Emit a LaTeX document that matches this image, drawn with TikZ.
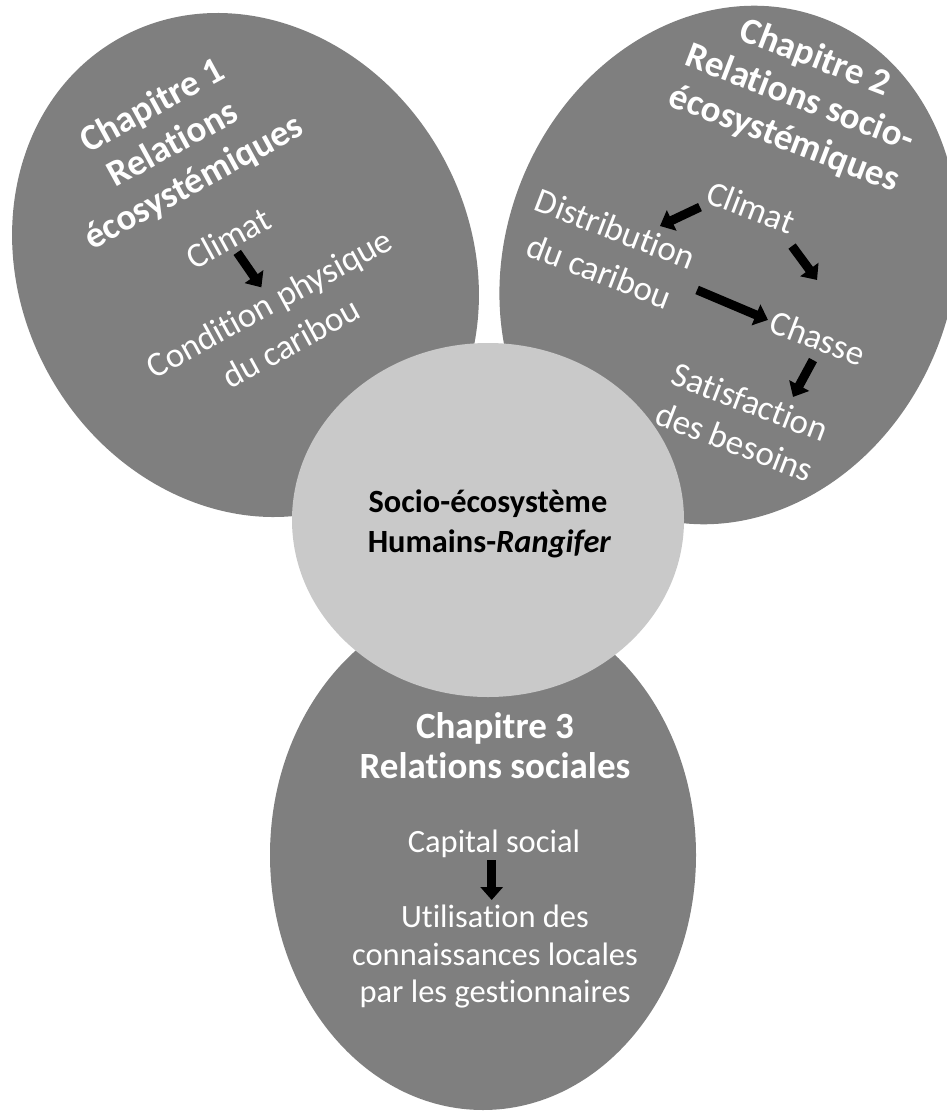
\documentclass[tikz,border=0pt]{standalone}
\usepackage{fontspec}
\setmainfont{Carlito}[Ligatures=NoCommon, Contextuals=NoAlternate]
\usetikzlibrary{arrows.meta}
\definecolor{darkfill}{RGB}{127,127,127}
\definecolor{lightfill}{RGB}{201,201,201}
\begin{document}
\begin{tikzpicture}[x=1pt,y=1pt,
  ttl/.style={text=white, font=\bfseries\fontsize{37}{43.5}\selectfont, inner sep=0pt, align=center},
  bodyA/.style={text=white, font=\fontsize{35}{45.5}\selectfont, inner sep=0pt, align=center},
  bodyB/.style={text=white, font=\fontsize{35}{43}\selectfont, inner sep=0pt, align=center},
  bodyC/.style={text=white, font=\fontsize{32.5}{38}\selectfont, inner sep=0pt, anchor=base},
  ttlC/.style={text=white, font=\bfseries\fontsize{37}{43}\selectfont, inner sep=0pt, anchor=base},
  hubtxt/.style={text=black, font=\bfseries\fontsize{32.4}{40}\selectfont, inner sep=0pt, anchor=base},
  blockarrow/.style={line width=9pt, black, -{Triangle[width=22pt,length=13pt]}}
]
\useasboundingbox (0,0) rectangle (947,-1111);
\clip (0,0) rectangle (947,-1111);

% shapes
\fill[darkfill, rotate around={28.7:(245.5,-265)}] (245.5,-265) ellipse [x radius=225, y radius=259.5];
\fill[darkfill, rotate around={-21:(729,-265)}] (729,-265) ellipse [x radius=224, y radius=264];
\fill[darkfill] (483,-855) ellipse [x radius=213, y radius=255];
\fill[lightfill] (488,-520) ellipse [x radius=196, y radius=177];

% Chapter 1
\begin{scope}[shift={(245.5,-265)}, rotate=28.7]
  \node[ttl, rotate=28.7] (ch1title) at (-5.5,140) {Chapitre 1\\Relations\\écosystémiques};
  \node[bodyA, rotate=28.7] (ch1clim) at (-2.3,32.1) {Climat};
  \node[bodyA, rotate=28.7] (ch1cond) at (2.5,-67.3) {Condition physique\\du caribou};
  \coordinate (a1s) at (-1.2,15);
  \coordinate (a1e) at (3.2,-27.2);
\end{scope}
\draw[blockarrow] (a1s) -- (a1e);

% Chapter 2
\begin{scope}[shift={(725,-265)}, rotate=-21]
  \node[ttl, rotate=-21] (ch2title) at (10,182) {Chapitre 2\\Relations socio-\\écosystémiques};
  \node[bodyA, rotate=-21] (ch2clim) at (3.5,63.4) {Climat};
  \node[bodyA, rotate=-21] (ch2dist) at (-115,-28.1) {Distribution\\du caribou};
  \node[bodyA, rotate=-21] (ch2chas) at (113,-34.9) {Chasse};
  \node[bodyB, rotate=-21] (ch2sat) at (72.5,-140.2) {Satisfaction\\des besoins};
  \coordinate (b1s) at (-44.1,45.1);  \coordinate (b1e) at (-74.7,13.1);
  \coordinate (b2s) at (55.8,41.7);   \coordinate (b2e) at (91.3,19);
  \coordinate (b3s) at (-17.1,-33.3); \coordinate (b3e) at (59.8,-35.9);
  \coordinate (b4s) at (116.2,-57.2); \coordinate (b4e) at (110.8,-98.8);
\end{scope}
\draw[blockarrow] (b1s) -- (b1e);
\draw[blockarrow] (b2s) -- (b2e);
\draw[blockarrow] (b3s) -- (b3e);
\draw[blockarrow] (b4s) -- (b4e);

% Chapter 3
\node[ttlC] (ch3a) at (495,-738) {Chapitre 3};
\node[ttlC] (ch3b) at (495,-778) {Relations sociales};
\node[bodyC] (ch3cap) at (494,-852) {Capital social};
\node[bodyC] (ch3u1) at (495,-927) {Utilisation des};
\node[bodyC] (ch3u2) at (495,-965) {connaissances locales};
\node[bodyC] (ch3u3) at (495,-1002) {par les gestionnaires};
\coordinate (c1s) at (491.7,-860);
\coordinate (c1e) at (491.7,-900);
\draw[blockarrow] (c1s) -- (c1e);

% hub
\node[hubtxt] (hub1) at (488,-512) {Socio-écosystème};
\node[hubtxt] (hub2) at (489.5,-552) {Humains-\textit{Rangifer}};
\end{tikzpicture}
\end{document}
